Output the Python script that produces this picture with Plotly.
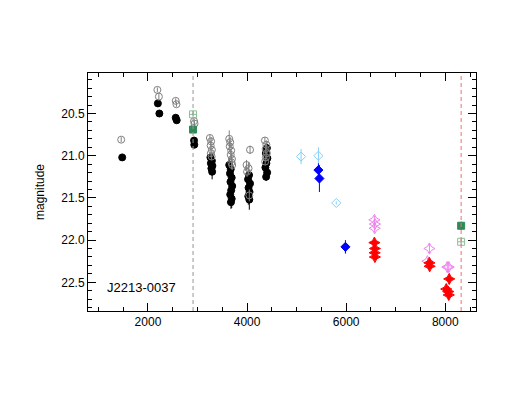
import plotly.graph_objects as go

# black filled points (main survey)
black_t = [1480, 2200, 2230, 2560, 2580, 2930, 2935,
           3260, 3290, 3270, 3300, 3280, 3295,
           3640, 3670, 3655, 3690, 3665, 3700, 3680, 3660, 3690, 3675,
           4040, 4020, 4060, 4030, 4050, 4025, 4045,
           4400, 4380, 4410, 4390, 4370, 4405, 4385]
black_mag = [21.02, 20.38, 20.50, 20.55, 20.58, 20.82, 20.87,
             21.02, 21.06, 21.09, 21.12, 21.15, 21.19,
             21.11, 21.16, 21.21, 21.26, 21.31, 21.36, 21.41, 21.46, 21.51, 21.55,
             21.23, 21.28, 21.33, 21.38, 21.43, 21.48, 21.52,
             20.91, 20.97, 21.03, 21.09, 21.14, 21.20, 21.25]
black_err = [0.02, 0.02, 0.02, 0.02, 0.02, 0.02, 0.02,
             0.05, 0.06, 0.07, 0.06, 0.08, 0.09,
             0.08, 0.10, 0.09, 0.12, 0.10, 0.11, 0.12, 0.10, 0.11, 0.08,
             0.06, 0.08, 0.09, 0.10, 0.11, 0.10, 0.12,
             0.05, 0.06, 0.07, 0.06, 0.08, 0.07, 0.05]

# gray open circles
gray_t = [1460, 2190, 2220, 2560, 2575, 2930, 2940,
          3250, 3275, 3265, 3290, 3270, 3285,
          3640, 3660, 3650, 3680, 3670, 3695, 3685, 3700,
          4060, 3990, 4030, 4000, 4045,
          4360, 4390, 4375, 4400, 4380, 4365]
gray_mag = [20.81, 20.22, 20.30, 20.35, 20.39, 20.59, 20.62,
            20.79, 20.83, 20.88, 20.93, 20.97, 21.01,
            20.80, 20.84, 20.89, 20.94, 20.99, 21.04, 21.08, 21.11,
            20.93, 21.11, 21.15, 21.19, 21.47,
            20.82, 20.87, 20.92, 20.97, 21.02, 21.07]
gray_err = [0.03, 0.03, 0.03, 0.03, 0.03, 0.03, 0.03,
            0.04, 0.05, 0.05, 0.06, 0.05, 0.04,
            0.10, 0.06, 0.07, 0.08, 0.06, 0.07, 0.08, 0.06,
            0.05, 0.06, 0.07, 0.06, 0.07,
            0.04, 0.05, 0.05, 0.06, 0.05, 0.04]

# dark green filled squares
dgreen_t = [2910, 8320]
dgreen_mag = [20.69, 21.83]
dgreen_err = [0.02, 0.05]

# light green open squares
lgreen_t = [2910, 8320]
lgreen_mag = [20.51, 22.02]
lgreen_err = [0.02, 0.02]

# light blue open diamonds
lblue_t = [5090, 5440, 5800]
lblue_mag = [21.01, 21.00, 21.56]
lblue_err = [0.09, 0.10, 0.02]

# blue filled diamonds
blue_t = [5440, 5460, 5985]
blue_mag = [21.17, 21.27, 22.08]
blue_err = [0.08, 0.16, 0.08]

# violet open stars
violet_t = [6570, 6580, 6575, 7680, 7640, 8040, 8070]
violet_mag = [21.76, 21.81, 21.86, 22.10, 22.25, 22.32, 22.32]
violet_err = [0.05, 0.05, 0.05, 0.06, 0.04, 0.06, 0.06]

# red filled stars
red_t = [6570, 6580, 6575, 6580, 7680, 7685, 8080, 8020, 8060, 8070]
red_mag = [22.03, 22.10, 22.15, 22.20, 22.27, 22.31, 22.46, 22.58, 22.61, 22.65]
red_err = [0.04, 0.04, 0.04, 0.04, 0.04, 0.04, 0.06, 0.06, 0.06, 0.06]

vlines = [(2910, 'rgb(150,150,150)'), (8320, 'rgb(240,110,110)')]


def add_series(fig, t, mag, err, symbol, color, size):
    fig.add_trace(go.Scatter(
        x=t, y=mag, mode='markers',
        marker=dict(symbol=symbol, color=color, size=size,
                    line=dict(width=1, color=color)),
        error_y=dict(type='data', array=err, thickness=1, width=0, color=color),
        showlegend=False))


fig = go.Figure()

for xv, col in vlines:
    fig.add_shape(type='line', x0=xv, x1=xv, y0=0, y1=1, yref='paper',
                  line=dict(color=col, width=1, dash='4px,3px'))

add_series(fig, black_t, black_mag, black_err, 'circle', 'black', 7)
add_series(fig, gray_t, gray_mag, gray_err, 'circle-open', 'rgb(128,128,128)', 7)
add_series(fig, lgreen_t, lgreen_mag, lgreen_err, 'square-cross-open', 'rgb(140,190,150)', 7)
add_series(fig, dgreen_t, dgreen_mag, dgreen_err, 'square', 'rgb(46,139,87)', 7)
add_series(fig, lblue_t, lblue_mag, lblue_err, 'diamond-open', 'rgb(135,206,250)', 7)
add_series(fig, blue_t, blue_mag, blue_err, 'diamond', 'rgb(0,0,255)', 7)
add_series(fig, violet_t, violet_mag, violet_err, 'star-diamond-open', 'rgb(238,130,238)', 8)
add_series(fig, red_t, red_mag, red_err, 'star-diamond', 'rgb(255,0,0)', 8)

fig.add_annotation(x=1130, y=22.56, text='J2213-0037', showarrow=False,
                   xanchor='left', yanchor='middle',
                   font=dict(size=13, color='black'))

axis_style = dict(showgrid=False, zeroline=False, showline=True, linecolor='black',
                  linewidth=1, mirror='ticks', ticks='inside', ticklen=8,
                  tickcolor='black', tickfont=dict(size=12, color='black'))

fig.update_xaxes(range=[790, 8620], tickvals=[2000, 4000, 6000, 8000],
                 ticktext=['2000', '4000', '6000', '8000'],
                 minor=dict(dtick=500, tick0=0, ticks='inside', ticklen=4, tickcolor='black'),
                 **axis_style)
fig.update_yaxes(range=[22.84, 20.02], tickvals=[20.5, 21.0, 21.5, 22.0, 22.5],
                 ticktext=['20.5', '21.0', '21.5', '22.0', '22.5'],
                 minor=dict(dtick=0.1, tick0=20.0, ticks='inside', ticklen=4, tickcolor='black'),
                 title=dict(text='magnitude', font=dict(size=12, color='black'), standoff=14),
                 **axis_style)

# page body adds ~8px offset, so margins are shifted accordingly
fig.update_layout(
    width=526, height=407,
    margin=dict(l=80, r=58, t=65, b=104),
    plot_bgcolor='white', paper_bgcolor='white',
    font=dict(family='Liberation Sans, Arial, sans-serif'))

fig.write_html("out.html")
